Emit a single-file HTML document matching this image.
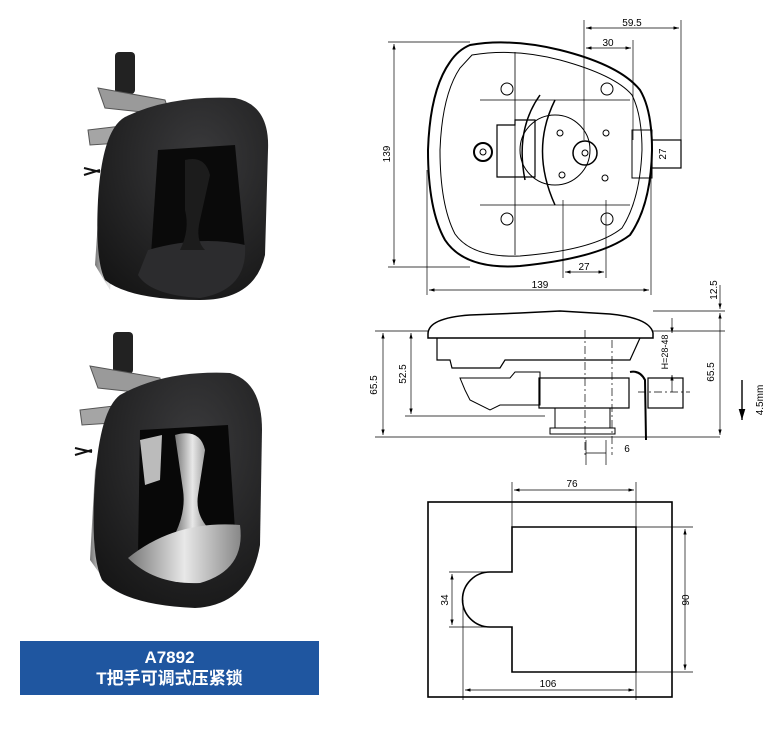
<!DOCTYPE html>
<html><head><meta charset="utf-8"><style>
html,body{margin:0;padding:0;background:#fff;}
body{width:780px;height:738px;position:relative;overflow:hidden;font-family:"Liberation Sans","Noto Sans CJK SC",sans-serif;}
.lab{position:absolute;left:20px;top:641px;width:299px;height:54px;background:#1f56a0;color:#fff;text-align:center;font-size:17px;line-height:21px;padding-top:6px;box-sizing:border-box;font-weight:bold;}
</style></head><body>
<svg width="780" height="738" style="position:absolute;left:0;top:0" font-family="Liberation Sans, sans-serif" font-size="10">
<defs>
<marker id="a" viewBox="0 0 10 6" refX="10" refY="3" markerWidth="8" markerHeight="5" orient="auto-start-reverse"><path d="M0,0L10,3L0,6z" fill="#000"/></marker>
<linearGradient id="sil" x1="0" x2="1"><stop offset="0" stop-color="#777"/><stop offset=".5" stop-color="#e8e8e8"/><stop offset="1" stop-color="#888"/></linearGradient>
<radialGradient id="blk" cx=".6" cy=".3" r=".9"><stop offset="0" stop-color="#3a3a3c"/><stop offset="1" stop-color="#111"/></radialGradient>
</defs>
<!-- Photo 1 -->
<g>
<rect x="115" y="52" width="20" height="42" rx="4" fill="#222"/>
<path d="M98,88 L165,100 L170,115 L105,108 Z" fill="#9a9a9a" stroke="#555"/>
<path d="M88,130 L130,125 L135,142 L90,145 Z" fill="#a5a5a5" stroke="#555"/>
<path d="M84,168 L100,172 M84,175 L100,170" stroke="#111" stroke-width="2"/>
<path d="M112,140 L100,190 L95,265 L110,290 L122,150 Z" fill="url(#sil)"/>
<path d="M125,117 Q170,95 235,98 Q270,105 268,150 L265,255 Q255,300 200,300 Q130,300 105,280 Q95,260 98,200 Q102,130 125,117 Z" fill="url(#blk)"/>
<path d="M158,150 L235,145 L245,250 Q210,285 150,270 Z" fill="#0a0a0a"/>
<path d="M148,250 Q200,235 245,245 Q248,290 200,298 Q150,295 138,275 Z" fill="#2c2c2e"/>
<path d="M185,160 Q205,155 210,175 L200,220 Q195,240 205,250 L180,250 Q190,230 185,210 Z" fill="#1c1c1c"/>
</g>
<!-- Photo 2 -->
<g>
<rect x="113" y="332" width="20" height="42" rx="4" fill="#222"/>
<path d="M90,366 L160,378 L162,395 L98,388 Z" fill="#9a9a9a" stroke="#555"/>
<path d="M80,410 L122,405 L128,422 L82,425 Z" fill="#a5a5a5" stroke="#555"/>
<path d="M75,448 L92,452 M75,455 L92,450" stroke="#111" stroke-width="2"/>
<path d="M108,415 L95,470 L90,560 L108,585 L118,430 Z" fill="url(#sil)"/>
<path d="M120,395 Q165,370 230,373 Q262,382 262,430 L260,545 Q250,605 195,608 Q125,605 102,580 Q90,555 95,480 Q100,410 120,395 Z" fill="url(#blk)"/>
<path d="M140,430 L228,425 L236,545 Q200,575 138,555 Z" fill="#080808"/>
<path d="M140,440 L162,435 L160,480 L145,485 Z" fill="#bbb"/>
<path d="M175,435 Q200,428 205,450 L198,495 Q195,515 210,530 L176,532 Q186,510 183,490 Z" fill="url(#sil)"/>
<path d="M128,558 Q175,520 240,525 Q246,570 200,583 Q155,585 128,558 Z" fill="url(#sil)"/>
</g>
<!-- Top drawing -->
<g fill="none" stroke="#000">
<path d="M470,45 Q510,38 560,50 Q620,65 640,90 Q652,110 652,150 Q651,205 630,235 Q600,258 520,266 Q465,270 445,240 Q428,210 428,150 Q430,90 450,62 Q458,50 470,45 Z" stroke-width="2"/>
<path d="M472,55 Q515,48 560,60 Q615,75 632,95 Q642,115 642,150 Q640,200 622,228 Q595,250 520,256 Q472,258 455,234 Q440,205 440,150 Q442,95 460,68 Z" stroke-width="1"/>
<path d="M515,52 L515,255 M480,100 L630,100 M480,205 L630,205" stroke-width=".8"/>
<path d="M497,125 L515,125 L515,120 L535,120 L535,177 L497,177 Z" stroke-width="1.2"/>
<circle cx="555" cy="150" r="35" stroke-width="1"/>
<circle cx="585" cy="153" r="12" stroke-width="1.5"/>
<circle cx="585" cy="153" r="3"/>
<circle cx="483" cy="152" r="9" stroke-width="2"/>
<circle cx="483" cy="152" r="3"/>
<circle cx="507" cy="89" r="6"/><circle cx="607" cy="89" r="6"/><circle cx="507" cy="219" r="6"/><circle cx="607" cy="219" r="6"/>
<circle cx="560" cy="133" r="3"/><circle cx="606" cy="133" r="3"/><circle cx="562" cy="175" r="3"/><circle cx="605" cy="178" r="3"/>
<rect x="632" y="130" width="20" height="48"/>
<rect x="652" y="140" width="29" height="28" stroke-width="1.2"/>
<path d="M540,95 Q515,130 525,180 M555,100 Q530,150 555,205" stroke-width="1.5"/>
</g>
<g stroke="#000" stroke-width=".7" fill="none">
<path d="M388,42 L470,42 M388,267 L470,267 M427,170 L427,295 M651,170 L651,295 M584,20 L584,140 M681,20 L681,140 M633,40 L633,140 M563,200 L563,278 M606,200 L606,278"/>
<path d="M394,44 L394,265" marker-start="url(#a)" marker-end="url(#a)"/>
<path d="M429,290 L649,290" marker-start="url(#a)" marker-end="url(#a)"/>
<path d="M586,28 L679,28" marker-start="url(#a)" marker-end="url(#a)"/>
<path d="M586,48 L631,48" marker-start="url(#a)" marker-end="url(#a)"/>
<path d="M565,272 L604,272" marker-start="url(#a)" marker-end="url(#a)"/>
</g>
<g fill="#000" text-anchor="middle">
<text x="632" y="26">59.5</text><text x="608" y="46">30</text><text x="584" y="270">27</text><text x="540" y="288">139</text>
<text transform="translate(390,154) rotate(-90)">139</text>
<text transform="translate(666,154) rotate(-90)">27</text>
</g>
<!-- Side view -->
<g fill="none" stroke="#000">
<path d="M428,334 Q428,318 470,315 L520,313 L560,311 L610,314 Q650,318 653,333 L653,338 L428,338 Z" stroke-width="1.5"/>
<path d="M437,338 L437,360 L450,360 L452,368 L500,368 L505,360 L630,360 L640,338" stroke-width="1.2"/>
<path d="M460,378 L510,378 L515,372 L540,372 L540,405 L500,405 L490,410 L470,400 L465,390 Z" stroke-width="1"/>
<rect x="539" y="378" width="90" height="30" stroke-width="1.2"/>
<rect x="555" y="408" width="55" height="20"/>
<rect x="550" y="428" width="65" height="6"/>
<path d="M630,372 Q640,370 645,380 L646,440" stroke-width="2"/>
<rect x="648" y="378" width="35" height="30" stroke-width="1.2"/>
<path d="M585,330 L585,455 M612,340 L612,455 M638,392 L690,392" stroke-width=".7" stroke-dasharray="8 3 2 3"/>
</g>
<g stroke="#000" stroke-width=".7" fill="none">
<path d="M375,331 L428,331 M375,437 L720,437 M405,416 L545,416 M653,311 L725,311 M653,331 L725,331 M586,440 L586,465 M606,440 L606,465"/>
<path d="M383,333 L383,435" marker-start="url(#a)" marker-end="url(#a)"/>
<path d="M411,333 L411,414" marker-start="url(#a)" marker-end="url(#a)"/>
<path d="M720,313 L720,435" marker-start="url(#a)" marker-end="url(#a)"/>
<path d="M720,285 L720,309" marker-end="url(#a)"/>
<path d="M672,318 L672,333" marker-end="url(#a)"/>
<path d="M672,375 L672,392" marker-start="url(#a)"/>
<path d="M586,453 L606,453"/>
<path d="M742,380 L742,420" marker-end="url(#a)" stroke-width="1.4"/>
</g>
<g fill="#000" text-anchor="middle">
<text transform="translate(377,385) rotate(-90)">65.5</text>
<text transform="translate(406,374) rotate(-90)">52.5</text>
<text transform="translate(714,372) rotate(-90)">65.5</text>
<text transform="translate(717,290) rotate(-90)">12.5</text>
<text transform="translate(668,352) rotate(-90)" font-size="9">H=28-48</text>
<text transform="translate(763,400) rotate(-90)">4.5mm</text>
<text x="627" y="452">6</text>
</g>
<!-- Cutout drawing -->
<g fill="none" stroke="#000">
<rect x="428" y="502" width="244" height="195" stroke-width="1.6"/>
<path d="M512,527 L636,527 L636,672 L512,672 L512,627 L490,627 A27.5,27.5 0 0 1 490,572 L512,572 Z" stroke-width="1.6"/>
</g>
<g stroke="#000" stroke-width=".7" fill="none">
<path d="M512,482 L512,527 M636,482 L636,700 M636,527 L693,527 M636,672 L693,672 M463,600 L463,700 M449,572 L490,572 M449,627 L490,627"/>
<path d="M514,490 L634,490" marker-start="url(#a)" marker-end="url(#a)"/>
<path d="M465,690 L634,690" marker-start="url(#a)" marker-end="url(#a)"/>
<path d="M685,529 L685,670" marker-start="url(#a)" marker-end="url(#a)"/>
<path d="M452,574 L452,625" marker-start="url(#a)" marker-end="url(#a)"/>
</g>
<g fill="#000" text-anchor="middle">
<text x="572" y="487">76</text><text x="548" y="687">106</text>
<text transform="translate(448,600) rotate(-90)">34</text>
<text transform="translate(689,600) rotate(-90)">90</text>
</g>
</svg>
<div class="lab">A7892<br>T把手可调式压紧锁</div>
</body></html>
